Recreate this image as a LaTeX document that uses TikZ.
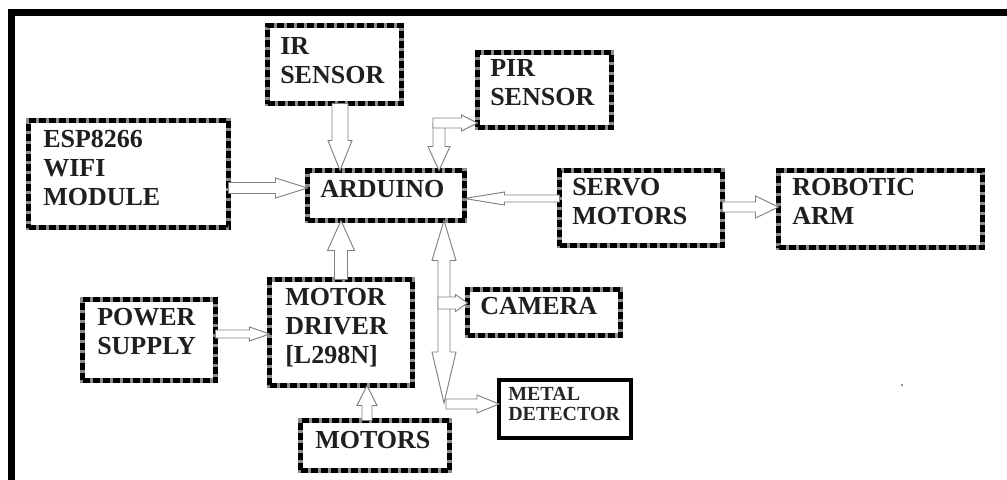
\documentclass[tikz,border=0pt]{standalone}
\usepackage{fontspec}
\setmainfont{Liberation Serif}
\usetikzlibrary{calc}
\tikzset{
  dbox/.style={draw=black, line width=3.4pt, dash pattern=on 5.25pt off 2.25pt,
    preaction={draw=black!45, line width=3.4pt, solid},
    inner sep=0pt, outer sep=0pt, rectangle},
  sbox/.style={draw=black, line width=3pt, inner sep=0pt, outer sep=0pt, rectangle},
  lbl/.style={font=\fontsize{19.5}{21.75}\selectfont\bfseries, align=left, inner sep=0pt, text=black!88, anchor=north west},
  slbl/.style={font=\fontsize{15}{15}\selectfont\bfseries, align=left, inner sep=0pt, text=black!85, anchor=north west},
  harr/.style={draw=black!50, fill=white, line width=0.7pt, line join=miter},
  frame/.style={draw=black, line width=5.25pt}
}
% point at distance #1 along and #2 across the direction \n1 from \p1 (pt)
\newcommand\PT[2]{({\x1+(#1)*cos(\n1)-(#2)*sin(\n1)},{\y1+(#1)*sin(\n1)+(#2)*cos(\n1)})}
% hollow block arrow: start, end, half shaft, half head, head length (px)
\newcommand\harrow[5]{%
  \filldraw[harr] let \p1=#1, \p2=#2, \n1={atan2(\y2-\y1,\x2-\x1)},
    \n2={veclen(\x2-\x1,\y2-\y1)}, \n3={0.75*#3}, \n4={0.75*#4}, \n5={0.75*#5} in
    \PT{0}{\n3} -- \PT{\n2-\n5}{\n3} -- \PT{\n2-\n5}{\n4} -- \PT{\n2}{0}
    -- \PT{\n2-\n5}{-\n4} -- \PT{\n2-\n5}{-\n3} -- \PT{0}{-\n3} -- cycle;}
% double headed: start, end, half shaft, half head, head length at start, at end
\newcommand\darrow[6]{%
  \filldraw[harr] let \p1=#1, \p2=#2, \n1={atan2(\y2-\y1,\x2-\x1)},
    \n2={veclen(\x2-\x1,\y2-\y1)}, \n3={0.75*#3}, \n4={0.75*#4}, \n5={0.75*#5}, \n6={0.75*#6} in
    \PT{0}{0} -- \PT{\n5}{\n4} -- \PT{\n5}{\n3} -- \PT{\n2-\n6}{\n3} -- \PT{\n2-\n6}{\n4}
    -- \PT{\n2}{0} -- \PT{\n2-\n6}{-\n4} -- \PT{\n2-\n6}{-\n3} -- \PT{\n5}{-\n3}
    -- \PT{\n5}{-\n4} -- cycle;}
% box: name, left, top, right, bottom, style
\newcommand\bx[6]{\node[#6, anchor=north west, minimum width={(#4-#2)*0.75pt},
  minimum height={(#5-#3)*0.75pt}] (#1) at (#2,#3) {};}
\begin{document}
\begin{tikzpicture}[x=0.75pt, y=-0.75pt]
\useasboundingbox (0,0) rectangle (1007,479);
\fill[white] (0,0) rectangle (1007,479);
\draw[frame] (11,485) -- (11,12.5) -- (1015,12.5);

% boxes
\bx{ir}{267.5}{25.5}{401.5}{103.5}{dbox}
\bx{pir}{477.5}{52.5}{611.5}{127.5}{dbox}
\bx{esp}{28.5}{120.5}{228.5}{227.5}{dbox}
\bx{ard}{307.5}{170.5}{464.5}{220.5}{dbox}
\bx{servo}{559.5}{170.5}{722.5}{245.5}{dbox}
\bx{arm}{778.5}{170.5}{982.5}{247.5}{dbox}
\bx{power}{82.5}{299.5}{215.5}{380.5}{dbox}
\bx{driver}{269.5}{279.5}{412.5}{385.5}{dbox}
\bx{cam}{467.5}{289.5}{620.5}{335.5}{dbox}
\bx{metal}{499}{380}{631}{438}{sbox}
\bx{motors}{300.5}{420.5}{449.5}{470.5}{dbox}

% labels
\node[lbl] (irl) at ($(ir.north west)+(12.5,11.5)$) {IR\\SENSOR};
\node[lbl] (pirl) at ($(pir.north west)+(12.5,6.5)$) {PIR\\SENSOR};
\node[lbl] (espl) at ($(esp.north west)+(14.5,9.5)$) {ESP8266\\WIFI\\MODULE};
\node[lbl] (ardl) at ($(ard.north west)+(12.5,9.5)$) {ARDUINO};
\node[lbl] (servol) at ($(servo.north west)+(12.5,7.5)$) {SERVO\\MOTORS};
\node[lbl] (arml) at ($(arm.north west)+(13.5,7.5)$) {ROBOTIC\\ARM};
\node[lbl] (powerl) at ($(power.north west)+(14.5,8.5)$) {POWER\\SUPPLY};
\node[lbl] (driverl) at ($(driver.north west)+(15.5,8.5)$) {MOTOR\\DRIVER\\{}[L298N]};
\node[lbl] (caml) at ($(cam.north west)+(12.5,7.5)$) {CAMERA};
\node[slbl] (metall) at ($(metal.north west)+(9,7)$) {METAL\\DETECTOR};
\node[lbl] (motorsl) at ($(motors.north west)+(14.5,10.5)$) {MOTORS};

% connectors
\coordinate (espa) at ($(esp.east)+(0,14)$);
\harrow{(espa)}{(espa -| ard.west)}{5.5}{10}{32}
\coordinate (ira) at ($(ir.south)+(5.5,0)$);
\harrow{(ira)}{(ira |- ard.north)}{8}{12}{30}
\coordinate (pirb) at ($(ard.north east)+(-25.5,-47.5)$);
\harrow{(pirb)}{(pirb |- ard.north)}{6}{11}{24}
\coordinate (pirh) at ($(pirb)+(-6,0)$);
\harrow{(pirh)}{(pirh -| pir.west)}{5}{8}{16}
\coordinate (sva) at ($(servo.west)+(0,-9.5)$);
\harrow{(sva)}{(sva -| ard.east)}{3.5}{6.5}{40}
\coordinate (svb) at ($(servo.east)+(0,-1)$);
\harrow{(svb)}{(svb -| arm.west)}{5}{11}{23}
\harrow{(driver.north)}{(driver.north |- ard.south)}{6.5}{13.5}{30}
\coordinate (pwa) at ($(power.east)+(0,-6)$);
\harrow{(pwa)}{(pwa -| driver.west)}{4}{7}{20}
\coordinate (mta) at ($(motors.north)+(-8,0)$);
\harrow{(mta)}{(mta |- driver.south)}{5}{10}{20}
\coordinate (bust) at ($(ard.south)+(58,0)$);
\coordinate (busb) at ($(bust)+(0,182.5)$);
\darrow{(busb)}{(bust)}{6}{12}{51}{40}
\coordinate (camb) at ($(bust)+(-6,82.5)$);
\harrow{(camb)}{(camb -| cam.west)}{6}{8.5}{12}
\coordinate (metb) at ($(busb)+(2,1)$);
\harrow{(metb)}{(metb -| metal.west)}{5}{9}{22}

\fill[black!60] (902,385) circle (1.2);
\end{tikzpicture}
\end{document}
